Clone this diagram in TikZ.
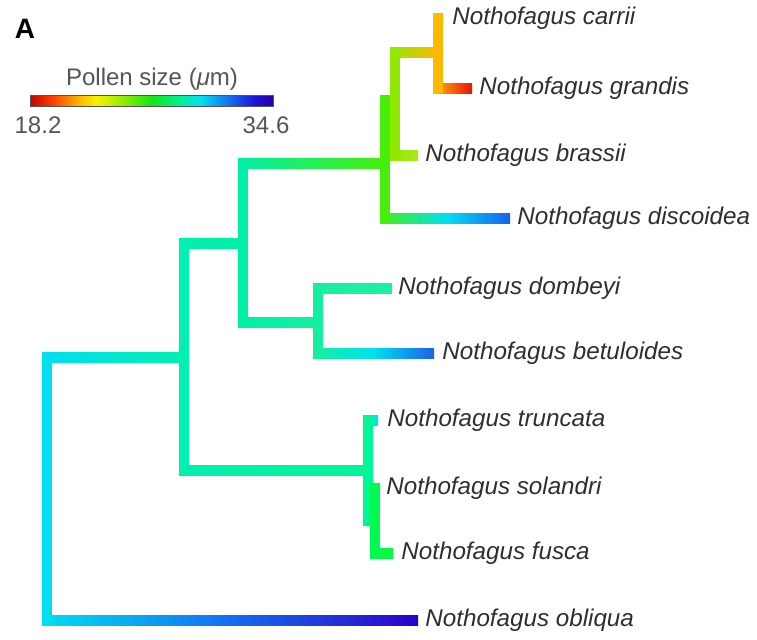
\documentclass[tikz,border=0pt]{standalone}
\usepackage{fontspec}
\setmainfont{Liberation Sans}
\usetikzlibrary{positioning,calc}

\definecolor{labgray}{RGB}{45,45,50}
\definecolor{bargray}{RGB}{85,85,85}
% jet scale
\definecolor{jRed}{RGB}{200,0,0}
\definecolor{jOrange}{RGB}{255,70,0}
\definecolor{jAmber}{RGB}{255,180,0}
\definecolor{jYellow}{RGB}{250,240,0}
\definecolor{jLime}{RGB}{150,235,0}
\definecolor{jGreen}{RGB}{20,230,20}
\definecolor{jSpring}{RGB}{0,240,150}
\definecolor{jCyan}{RGB}{0,225,240}
\definecolor{jAzure}{RGB}{20,110,240}
\definecolor{jBlue}{RGB}{30,20,220}
\definecolor{jIndigo}{RGB}{40,0,160}
% node colours
\definecolor{cRoot}{RGB}{0,222,240}
\definecolor{cA}{RGB}{0,240,175}
\definecolor{cB}{RGB}{0,240,165}
\definecolor{cC}{RGB}{20,240,160}
\definecolor{cD}{RGB}{70,238,10}
\definecolor{cE}{RGB}{145,232,0}
\definecolor{cF}{RGB}{255,185,0}
\definecolor{cG}{RGB}{0,245,150}
\definecolor{cH}{RGB}{0,250,80}
% tip colours
\definecolor{cCarr}{RGB}{255,190,0}
\definecolor{cGrand}{RGB}{235,15,10}
\definecolor{cBras}{RGB}{170,232,30}
\definecolor{cDisc}{RGB}{25,95,240}
\definecolor{cDom}{RGB}{30,240,160}
\definecolor{cBet}{RGB}{30,95,235}
\definecolor{cTrunc}{RGB}{0,228,232}
\definecolor{cSol}{RGB}{0,250,80}
\definecolor{cFus}{RGB}{0,250,60}
\definecolor{cObl}{RGB}{45,0,200}

\pgfdeclarehorizontalshading{jetbar}{100bp}{color(0bp)=(jRed); color(25bp)=(jRed); color(30bp)=(jOrange); color(35bp)=(jAmber); color(38.5bp)=(jYellow); color(44bp)=(jLime); color(50bp)=(jGreen); color(56bp)=(jSpring); color(60bp)=(jCyan); color(66bp)=(jAzure); color(71bp)=(jBlue); color(75bp)=(jIndigo); color(100bp)=(jIndigo)}

% horizontal branch from node #1 out to #2, shaded #3 -> #4
\newcommand{\treebranch}[4]{%
  \shade[left color=#3, right color=#4] ($(#1|-#2)+(-5,-5)$) rectangle ($(#2)+(0,5)$);}
% same, with a middle colour #4
\newcommand{\treebranchm}[5]{%
  \shade[left color=#3, right color=#5, middle color=#4] ($(#1|-#2)+(-5,-5)$) rectangle ($(#2)+(0,5)$);}

\begin{document}
\begin{tikzpicture}[
  x=0.5pt, y=-0.5pt,
  lab/.style={font=\fontsize{12.1}{15}\selectfont\itshape, text=labgray, inner sep=0pt},
  bartxt/.style={font=\fontsize{12}{14}\selectfont, text=bargray, inner sep=0pt},
  vbar/.style={line width=5pt, line cap=rect},
]
\useasboundingbox (0,0) rectangle (757,639);
\node[font=\fontsize{14}{16}\selectfont\bfseries, inner sep=0pt] (panel) at (25,29) {A};
% colour key
\node[draw=bargray, line width=0.4pt, shading=jetbar, minimum width=121.5pt, minimum height=5.5pt, inner sep=0pt] (bar) at (151.5,100.5) {};
\node[bartxt] (keytitle) at (152,79) {Pollen size ({\itshape μ}m)};
\node[bartxt] (kmin) at (38,125) {18.2};
\node[bartxt] (kmax) at (266,125) {34.6};
% internal nodes
\coordinate (root) at (47,490);
\coordinate (nA) at (184,357);
\coordinate (nB) at (243,243);
\coordinate (nC) at (318,322);
\coordinate (nD) at (385,163);
\coordinate (nE) at (395,100);
\coordinate (nF) at (438,52);
\coordinate (nG) at (368,470);
\coordinate (nH) at (375,520);
% tips
\coordinate (carrii) at (443,18);
\coordinate (grandis) at (472,88);
\coordinate (brassii) at (418,155);
\coordinate (discoidea) at (510,218);
\coordinate (dombeyi) at (392,288);
\coordinate (betuloides) at (434,353);
\coordinate (truncata) at (378,420);
\coordinate (solandri) at (380,488);
\coordinate (fusca) at (393,553);
\coordinate (obliqua) at (418,620);
% horizontal branches
\treebranch{root}{nA}{cRoot}{cA}
\treebranchm{root}{obliqua}{cRoot}{jAzure}{cObl}
\treebranch{nA}{nB}{cA}{cB}
\treebranch{nA}{nG}{cA}{cG}
\treebranch{nB}{nD}{cB}{cD}
\treebranch{nB}{nC}{cB}{cC}
\treebranch{nC}{dombeyi}{cC}{cDom}
\treebranchm{nC}{betuloides}{cC}{jCyan}{cBet}
\treebranch{nD}{nE}{cD}{cE}
\treebranchm{nD}{discoidea}{cD}{jCyan}{cDisc}
\treebranch{nE}{nF}{cE}{cF}
\treebranch{nE}{brassii}{cE}{cBras}
\treebranch{nF}{carrii}{cF}{cCarr}
\treebranch{nF}{grandis}{cF}{cGrand}
\treebranch{nG}{truncata}{cG}{cTrunc}
\treebranch{nG}{nH}{cG}{cH}
\treebranch{nH}{solandri}{cH}{cSol}
\treebranch{nH}{fusca}{cH}{cFus}
% vertical bars
\draw[vbar, cRoot] (root|-nA) -- (root|-obliqua);
\draw[vbar, cA] (nA|-nB) -- (nA|-nG);
\draw[vbar, cB] (nB|-nD) -- (nB|-nC);
\draw[vbar, cC] (nC|-dombeyi) -- (nC|-betuloides);
\draw[vbar, cD] (nD|-nE) -- (nD|-discoidea);
\draw[vbar, cE] (nE|-nF) -- (nE|-brassii);
\draw[vbar, cF] (nF|-carrii) -- (nF|-grandis);
\draw[vbar, cG] (nG|-truncata) -- (nG|-nH);
\draw[vbar, cH] (nH|-solandri) -- (nH|-fusca);
% species
\node[lab, right=4.5pt of carrii] (lcarrii) {Nothofagus carrii};
\node[lab, right=3.5pt of grandis] (lgrandis) {Nothofagus grandis};
\node[lab, right=3.5pt of brassii] (lbrassii) {Nothofagus brassii};
\node[lab, right=3.5pt of discoidea] (ldiscoidea) {Nothofagus discoidea};
\node[lab, right=3pt of dombeyi] (ldombeyi) {Nothofagus dombeyi};
\node[lab, right=4pt of betuloides] (lbetuloides) {Nothofagus betuloides};
\node[lab, right=4.5pt of truncata] (ltruncata) {Nothofagus truncata};
\node[lab, right=3pt of solandri] (lsolandri) {Nothofagus solandri};
\node[lab, right=4pt of fusca] (lfusca) {Nothofagus fusca};
\node[lab, right=3.5pt of obliqua] (lobliqua) {Nothofagus obliqua};
\end{tikzpicture}
\end{document}
